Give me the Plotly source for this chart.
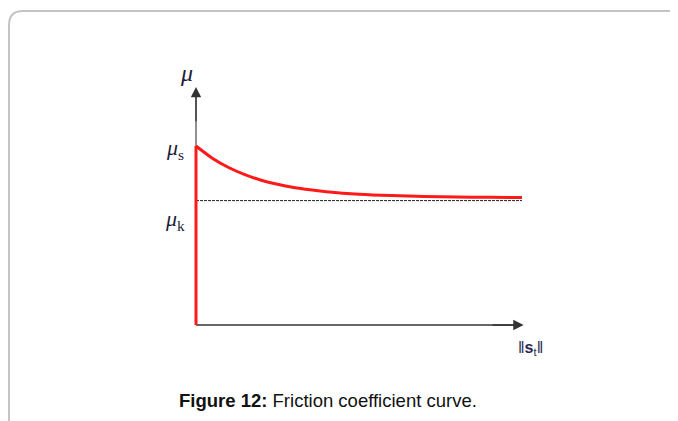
import plotly.graph_objects as go

# Data
slip_jump = [0, 0]
mu_jump = [0, 1.0]
slip = [0, 0.5, 1, 1.5, 2, 2.5, 3, 3.5, 4, 5, 6, 7, 8, 9, 10]
mu = [1.0, 0.932, 0.880, 0.840, 0.809, 0.786, 0.768, 0.755, 0.745, 0.731, 0.723, 0.718, 0.715, 0.713, 0.712]
mu_k = 0.695
kinetic_x = [0, 10]
x_tip = 10.05
y_tip = 1.33

W, H = 678, 421
OFF = 8  # page body margin
FW, FH = W - OFF, H - OFF
ORX, ORY = 196 - OFF, 325 - OFF  # origin in figure pixels
k = 179.0          # px per unit mu
x_per_px = 1 / 32.6

fig = go.Figure()

# axis lines (under the curve)
fig.add_trace(go.Scatter(x=[0, 0], y=[0, y_tip - 0.05], mode="lines",
                         line=dict(color="#555", width=1.3), hoverinfo="skip"))
fig.add_trace(go.Scatter(x=[0, x_tip - 0.3], y=[0, 0], mode="lines",
                         line=dict(color="#333", width=1.3), hoverinfo="skip"))

# dotted kinetic line
fig.add_trace(go.Scatter(x=kinetic_x, y=[mu_k, mu_k], mode="lines",
                         line=dict(color="#222", width=1, dash="3px,1px"), hoverinfo="skip"))

# arrow heads
fig.add_annotation(x=0, y=y_tip, ax=0, ay=y_tip - 0.2, xref="x", yref="y", axref="x", ayref="y",
                   showarrow=True, arrowhead=2, arrowsize=1.6, arrowwidth=1.3, arrowcolor="#333", text="")
fig.add_annotation(x=x_tip, y=0, ax=x_tip - 1, ay=0, xref="x", yref="y", axref="x", ayref="y",
                   showarrow=True, arrowhead=2, arrowsize=1.6, arrowwidth=1.3, arrowcolor="#333", text="")

# red friction curve
fig.add_trace(go.Scatter(x=slip_jump, y=mu_jump, mode="lines", line=dict(color="#ff1a1a", width=3),
                         hoverinfo="skip"))
fig.add_trace(go.Scatter(x=slip, y=mu, mode="lines",
                         line=dict(color="#ff1a1a", width=3, shape="spline", smoothing=0.8),
                         hoverinfo="skip"))

# labels
serif = "Liberation Serif"
fig.add_annotation(x=-0.3, y=1.41, xref="x", yref="y", text="<i>μ</i>", showarrow=False,
                   font=dict(family=serif, size=24, color="#1e1e3a"))
fig.add_annotation(x=-0.65, y=0.985, xref="x", yref="y", text="<i>μ</i><sub>s</sub>", showarrow=False,
                   font=dict(family=serif, size=22, color="#1e1e3a"))
fig.add_annotation(x=-0.65, y=0.585, xref="x", yref="y", text="<i>μ</i><sub>k</sub>", showarrow=False,
                   font=dict(family=serif, size=22, color="#1e1e3a"))
fig.add_annotation(x=10.25, y=-0.13, xref="x", yref="y", text="‖<b>s</b><sub>t</sub>‖", showarrow=False,
                   font=dict(family="Liberation Sans", size=16, color="#2a2a50"))

# caption
fig.add_annotation(x=(328 - OFF) / FW, y=1 - (400 - OFF) / FH, xref="paper", yref="paper",
                   xanchor="center", yanchor="middle",
                   text="<b>Figure 12:</b> Friction coefficient curve.", showarrow=False,
                   font=dict(family="Liberation Sans", size=18.5, color="#111"))

# rounded frame
x0, y0 = (8 - OFF + 1) / FW, 1 - (11 - OFF) / FH
r = 14
path = (f"M {x0},{-0.05} L {x0},{1 - (11 - OFF + r) / FH} "
        f"Q {x0},{y0} {(8 - OFF + 1 + r) / FW},{y0} L 1.05,{y0}")
fig.add_shape(type="path", path=path, xref="paper", yref="paper",
              line=dict(color="#c4c4c4", width=2))

fig.update_layout(
    width=FW, height=FH, margin=dict(l=0, r=0, t=0, b=0),
    paper_bgcolor="white", plot_bgcolor="white", showlegend=False,
    xaxis=dict(range=[-ORX * x_per_px, (FW - ORX) * x_per_px], visible=False, fixedrange=True),
    yaxis=dict(range=[(ORY - FH) / k, ORY / k], visible=False, fixedrange=True),
)
fig.write_html("out.html", config={"displayModeBar": False})
